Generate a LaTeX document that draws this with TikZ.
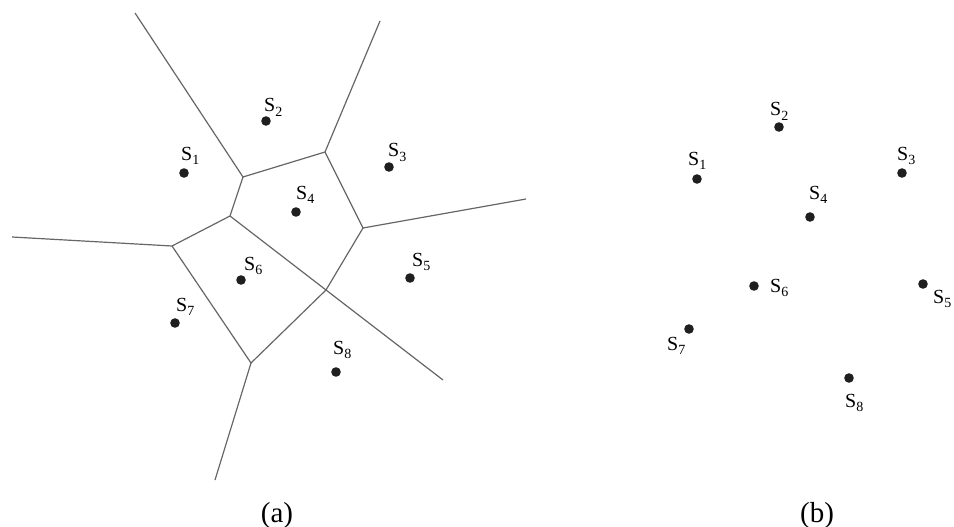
\documentclass[tikz,border=0pt]{standalone}
\usepackage{fontspec}
\setmainfont{Liberation Serif}
\newcommand\slabel[1]{S\raisebox{-4.5pt}{\fontsize{14}{14}\selectfont #1}}
\begin{document}
\begin{tikzpicture}[x=1pt,y=-1pt,
  vedge/.style={draw=black!60, line width=1.2pt},
  site/.style={circle, fill=black!88, inner sep=0pt, minimum size=9.6pt},
  slab/.style={anchor=base west, inner sep=0pt, font=\fontsize{20}{20}\selectfont},
  panelcap/.style={anchor=base, inner sep=0pt, font=\fontsize{29}{29}\selectfont}]
\useasboundingbox (0,0) rectangle (954,527);
% Voronoi vertices
\coordinate (A) at (243,177);
\coordinate (B) at (325,152);
\coordinate (C) at (363,228);
\coordinate (D) at (326,290);
\coordinate (E) at (230,216);
\coordinate (F) at (172,246);
\coordinate (G) at (251,363);
% ray ends
\coordinate (TL) at (135,13);
\coordinate (TR) at (380,21);
\coordinate (R) at (526,199);
\coordinate (L) at (12,237);
\coordinate (BR) at (443,380);
\coordinate (BT) at (215,480);
% edges
\draw[vedge] (TL) -- (A) -- (B) -- (TR);
\draw[vedge] (B) -- (C) -- (R);
\draw[vedge] (C) -- (D);
\draw[vedge] (A) -- (E) -- (F) -- (L);
\draw[vedge] (E) -- (D) -- (BR);
\draw[vedge] (F) -- (G) -- (D);
\draw[vedge] (G) -- (BT);
% sites (a)
\node[site] (a1) at (184,173) {};
\node[site] (a2) at (266,121) {};
\node[site] (a3) at (389,167) {};
\node[site] (a4) at (296,212) {};
\node[site] (a5) at (410,278) {};
\node[site] (a6) at (241,280) {};
\node[site] (a7) at (175,323) {};
\node[site] (a8) at (336,372) {};
\node[slab] (la1) at (181,160) {\slabel{1}};
\node[slab] (la2) at (264,112) {\slabel{2}};
\node[slab] (la3) at (388,157) {\slabel{3}};
\node[slab] (la4) at (296,199) {\slabel{4}};
\node[slab] (la5) at (412,266) {\slabel{5}};
\node[slab] (la6) at (244,270) {\slabel{6}};
\node[slab] (la7) at (176,311) {\slabel{7}};
\node[slab] (la8) at (333,354) {\slabel{8}};
% sites (b)
\node[site] (b1) at (697,179) {};
\node[site] (b2) at (779,127) {};
\node[site] (b3) at (902,173) {};
\node[site] (b4) at (810,217) {};
\node[site] (b5) at (923,284) {};
\node[site] (b6) at (754,286) {};
\node[site] (b7) at (689,329) {};
\node[site] (b8) at (849,378) {};
\node[slab] (lb1) at (688,165) {\slabel{1}};
\node[slab] (lb2) at (770,116) {\slabel{2}};
\node[slab] (lb3) at (897,160) {\slabel{3}};
\node[slab] (lb4) at (809,199) {\slabel{4}};
\node[slab] (lb5) at (933,303) {\slabel{5}};
\node[slab] (lb6) at (770,292) {\slabel{6}};
\node[slab] (lb7) at (667,350) {\slabel{7}};
\node[slab] (lb8) at (845,407) {\slabel{8}};
% captions
\node[panelcap] (capa) at (277,522) {(a)};
\node[panelcap] (capb) at (817,522) {(b)};
\end{tikzpicture}
\end{document}
